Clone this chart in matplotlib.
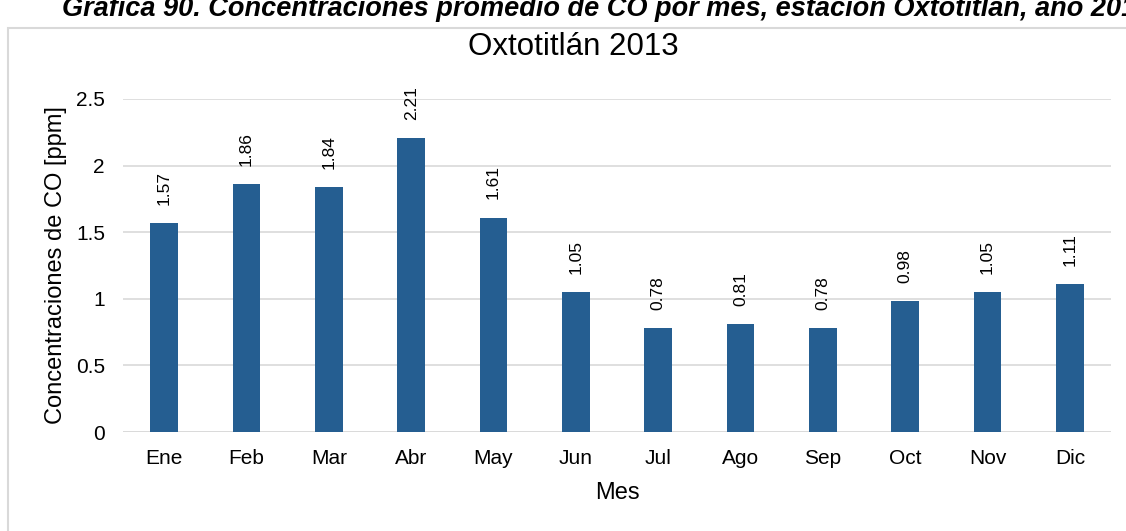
import matplotlib.pyplot as plt
from matplotlib.patches import Rectangle

plt.rcParams['font.family'] = ['Liberation Sans', 'DejaVu Sans']

# Datos
meses = ['Ene', 'Feb', 'Mar', 'Abr', 'May', 'Jun', 'Jul', 'Ago', 'Sep', 'Oct', 'Nov', 'Dic']
concentraciones = [1.57, 1.86, 1.84, 2.21, 1.61, 1.05, 0.78, 0.81, 0.78, 0.98, 1.05, 1.11]
etiquetas = ['1.57', '1.86', '1.84', '2.21', '1.61', '1.05', '0.78', '0.81', '0.78', '0.98', '1.05', '1.11']
yticks = [0, 0.5, 1, 1.5, 2, 2.5]
ytick_labels = ['0', '0.5', '1', '1.5', '2', '2.5']

W, H = 1126, 531
fig = plt.figure(figsize=(W / 100, H / 100), dpi=100)

# Marco del grafico (recortado en la imagen)
fig.patches.append(Rectangle((8 / W, -0.1), 1.2, (H - 28) / H + 0.1, transform=fig.transFigure,
                             facecolor='none', edgecolor='#D9D9D9', linewidth=1.5))

# Leyenda de la grafica, cortada arriba como en la imagen original
fig.text(62 / W, 1 - 16 / H, 'Gráfica 90. Concentraciones promedio de CO por mes, estación Oxtotitlán, año 2013',
         fontsize=19.5, fontweight='bold', fontstyle='italic', va='baseline', ha='left')

# Titulo centrado en el marco
fig.text(573 / W, 1 - 47 / H, 'Oxtotitlán 2013', fontsize=22.5, ha='center', va='center')

ax = fig.add_axes([123 / W, 99 / H, (1111 - 123) / W, (432 - 99) / H])
x = range(len(meses))
ax.bar(x, concentraciones, width=0.34, color='#255E91', zorder=3)
for xi, v, lab in zip(x, concentraciones, etiquetas):
    ax.annotate(lab, (xi, v), xytext=(0, 13), textcoords='offset points',
                rotation=90, ha='center', va='bottom', fontsize=12.5)

ax.set_xlim(-0.5, len(meses) - 0.5)
ax.set_ylim(0, 2.5)
ax.set_yticks(yticks)
ax.set_yticklabels(ytick_labels)
ax.set_xticks(list(x))
ax.set_xticklabels(meses)
ax.tick_params(axis='both', length=0, labelsize=15)
ax.tick_params(axis='y', pad=13)
ax.tick_params(axis='x', pad=12)
ax.grid(axis='y', color='#D9D9D9', linewidth=1.2, zorder=0)
for s in ax.spines.values():
    s.set_visible(False)
ax.axhline(0, color='#D9D9D9', linewidth=1.2, zorder=1)

ax.set_xlabel('Mes', fontsize=17, labelpad=10)
ax.set_ylabel('Concentraciones de CO [ppm]', fontsize=17, labelpad=6)

fig.savefig('out.png', dpi=100)
